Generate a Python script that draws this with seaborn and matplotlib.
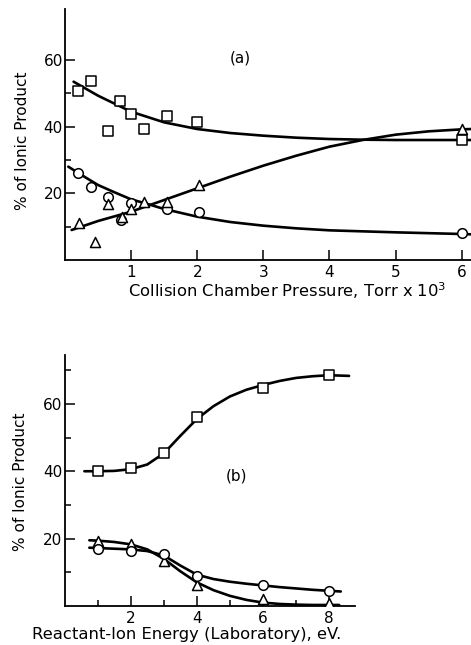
import matplotlib
matplotlib.use('Agg')
import matplotlib.pyplot as plt
from matplotlib.ticker import FixedLocator
import seaborn as sns

# ---- panel (a): collision chamber pressure ----
a_sq_x = [0.20, 0.39, 0.65, 0.83, 1.00, 1.20, 1.55, 2.00, 6.00]
a_sq_y = [50.8, 53.7, 38.8, 47.8, 43.8, 39.2, 43.3, 41.3, 36.0]
a_ci_x = [0.20, 0.40, 0.65, 0.85, 1.00, 1.55, 2.02, 6.00]
a_ci_y = [26.0, 21.8, 19.0, 12.0, 17.0, 15.3, 14.3, 8.0]
a_tr_x = [0.21, 0.46, 0.65, 0.86, 1.00, 1.20, 1.55, 2.02, 6.00]
a_tr_y = [11.0, 5.3, 16.8, 13.0, 15.3, 17.3, 17.5, 22.5, 39.2]

# fitted curves
a_sq_cx = [0.13, 0.5, 1.0, 1.5, 2.0, 2.5, 3.0, 3.5, 4.0, 4.5, 5.0, 5.5, 6.0, 6.15]
a_sq_cy = [53.5, 49.3, 44.5, 41.3, 39.3, 38.1, 37.3, 36.7, 36.3, 36.1, 36.0, 36.0, 36.0, 36.0]
a_ci_cx = [0.05, 0.25, 0.5, 0.75, 1.0, 1.25, 1.5, 2.0, 2.5, 3.0, 3.5, 4.0, 5.0, 6.0, 6.15]
a_ci_cy = [28.0, 25.5, 22.5, 20.3, 18.2, 16.8, 15.3, 13.0, 11.4, 10.3, 9.5, 8.9, 8.3, 7.8, 7.7]
a_tr_cx = [0.1, 0.5, 1.0, 1.5, 2.0, 2.5, 3.0, 3.5, 4.0, 4.5, 5.0, 5.5, 6.0, 6.15]
a_tr_cy = [9.0, 11.7, 14.5, 18.0, 21.5, 25.0, 28.3, 31.3, 34.0, 36.0, 37.6, 38.6, 39.2, 39.3]

# ---- panel (b): reactant-ion energy ----
b_x = [1, 2, 3, 4, 6, 8]
b_sq_y = [40.0, 41.0, 45.3, 56.2, 64.8, 68.7]
b_tr_y = [19.2, 18.5, 13.4, 6.1, 2.0, 1.0]
b_ci_y = [16.9, 16.2, 15.4, 9.0, 6.2, 4.5]

b_sq_cx = [0.6, 1.0, 1.5, 2.0, 2.5, 3.0, 3.5, 4.0, 4.5, 5.0, 5.5, 6.0, 6.5, 7.0, 7.5, 8.0, 8.6]
b_sq_cy = [40.0, 40.0, 40.1, 40.6, 42.0, 45.3, 50.5, 55.5, 59.3, 62.2, 64.2, 65.6, 66.8, 67.7, 68.2, 68.5, 68.3]
b_tr_cx = [0.75, 1.0, 1.5, 2.0, 2.5, 3.0, 3.5, 4.0, 4.5, 5.0, 5.5, 6.0, 6.5, 7.0, 7.5, 8.0, 8.3]
b_tr_cy = [19.5, 19.4, 19.0, 18.3, 16.8, 14.0, 10.3, 7.0, 4.7, 3.0, 1.8, 1.0, 0.6, 0.4, 0.3, 0.3, 0.3]
b_ci_cx = [0.75, 1.0, 1.5, 2.0, 2.5, 3.0, 3.5, 4.0, 4.5, 5.0, 5.5, 6.0, 6.5, 7.0, 7.5, 8.0, 8.35]
b_ci_cy = [17.3, 17.2, 17.0, 16.8, 16.3, 15.0, 12.0, 9.3, 8.0, 7.2, 6.6, 6.1, 5.6, 5.2, 4.8, 4.5, 4.3]

sns.set_style('ticks')
plt.rcParams.update({
    'font.family': ['DejaVu Sans'],
    'font.size': 10,
    'text.color': 'black',
    'axes.labelcolor': 'black',
    'xtick.color': 'black',
    'ytick.color': 'black',
})

LW = 1.9
MARK = dict(facecolor='white', edgecolor='black', linewidth=1.1, zorder=4, legend=False)


def style_axis(ax, xmaj, xmin, ymaj, ymin):
    sns.despine(ax=ax)
    for s in ['left', 'bottom']:
        ax.spines[s].set_linewidth(1.3)
        ax.spines[s].set_color('black')
    ax.xaxis.set_major_locator(FixedLocator(xmaj))
    ax.yaxis.set_major_locator(FixedLocator(ymaj))
    if xmin:
        ax.xaxis.set_minor_locator(FixedLocator(xmin))
    ax.yaxis.set_minor_locator(FixedLocator(ymin))
    ax.tick_params(axis='both', which='major', direction='in', length=7, width=1.1,
                   labelsize=11, color='black', labelcolor='black')
    ax.tick_params(axis='both', which='minor', direction='in', length=4.5, width=1.1, color='black')
    ax.tick_params(axis='x', pad=3.5)
    ax.tick_params(axis='y', pad=1.5)


fig = plt.figure(figsize=(4.71, 6.45), dpi=100)
ax1 = fig.add_axes([0.138, 0.5969, 0.862, 0.3891])
ax2 = fig.add_axes([0.137, 0.0605, 0.6168, 0.3891])

# panel (a)
for cx, cy in [(a_sq_cx, a_sq_cy), (a_ci_cx, a_ci_cy), (a_tr_cx, a_tr_cy)]:
    sns.lineplot(x=cx, y=cy, ax=ax1, color='black', linewidth=LW, sort=False, zorder=2)
sns.scatterplot(x=a_sq_x, y=a_sq_y, ax=ax1, marker='s', s=48, **MARK)
sns.scatterplot(x=a_ci_x, y=a_ci_y, ax=ax1, marker='o', s=48, **MARK)
sns.scatterplot(x=a_tr_x, y=a_tr_y, ax=ax1, marker='^', s=52, **MARK)
ax1.set_xlim(0, 6.142)
ax1.set_ylim(0, 75.3)
style_axis(ax1, [1, 2, 3, 4, 5, 6], None, [20, 40, 60], [10, 30, 50])
ax1.set_xlabel('Collision Chamber Pressure, Torr x 10$^3$', fontsize=11.8, va='center')
ax1.xaxis.set_label_coords(0.547, -0.124)
ax1.set_ylabel('% of Ionic Product', fontsize=11, va='center')
ax1.yaxis.set_label_coords(-0.104, 0.474)
ax1.text(2.65, 60.5, '(a)', fontsize=11, ha='center', va='center')

# panel (b)
for cx, cy in [(b_sq_cx, b_sq_cy), (b_tr_cx, b_tr_cy), (b_ci_cx, b_ci_cy)]:
    sns.lineplot(x=cx, y=cy, ax=ax2, color='black', linewidth=LW, sort=False, zorder=2)
sns.scatterplot(x=b_x, y=b_sq_y, ax=ax2, marker='s', s=48, **MARK)
sns.scatterplot(x=b_x, y=b_tr_y, ax=ax2, marker='^', s=52, **MARK)
sns.scatterplot(x=b_x, y=b_ci_y, ax=ax2, marker='o', s=48, **MARK)
ax2.set_xlim(0, 8.78)
ax2.set_ylim(0, 74.5)
style_axis(ax2, [2, 4, 6, 8], [1, 3, 5, 7], [20, 40, 60], [10, 30, 50, 70])
ax2.set_xlabel('Reactant-Ion Energy (Laboratory), eV.', fontsize=11.8, va='center')
ax2.xaxis.set_label_coords(0.42, -0.114)
ax2.set_ylabel('% of Ionic Product', fontsize=11, va='center')
ax2.yaxis.set_label_coords(-0.15, 0.494)
ax2.text(5.2, 38.5, '(b)', fontsize=11, ha='center', va='center')

fig.savefig('out.png', dpi=100, facecolor='white')
